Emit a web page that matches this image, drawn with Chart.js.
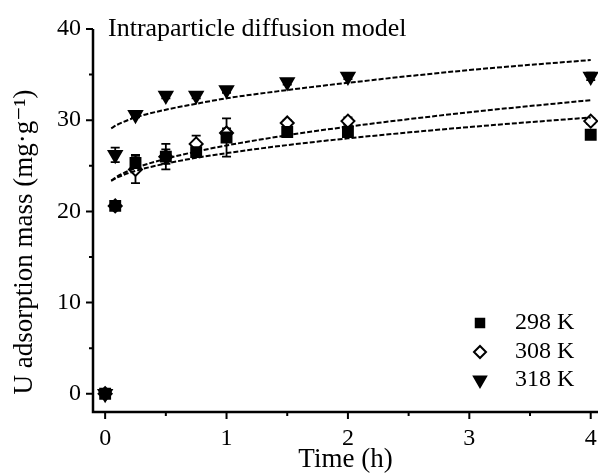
<!DOCTYPE html>
<html>
<head>
<meta charset="utf-8">
<script src="https://cdn.jsdelivr.net/npm/chart.js@4/dist/chart.umd.min.js"></script>
<style>
  html, body { margin: 0; padding: 0; background: #fff; }
  #wrap { width: 598px; height: 476px; }
</style>
</head>
<body>
<div id="wrap"><canvas id="chart" width="598" height="476"></canvas></div>
<script>
// time points (h)
const times = [0, 0.083, 0.25, 0.5, 0.75, 1, 1.5, 2, 4];

// measured adsorption (mg/g)
const q298 = [0, 20.6, 25.3, 26.0, 26.5, 28.1, 28.7, 28.7, 28.4];
const q308 = [0, 20.6, 24.6, 26.0, 27.4, 28.6, 29.7, 29.9, 29.9];
const q318 = [0, 26.2, 30.6, 32.7, 32.7, 33.3, 34.2, 34.8, 34.8];

// error bars (+/-)
const err298 = [0, 0.3, 0.9, 1.4, 0.4, 2.1, 0.3, 0.3, 0.3];
const err308 = [0, 0.3, 1.5, 0.8, 0.9, 0.5, 0.3, 0.4, 0.3];
const err318 = [0, 0.8, 0.3, 0.3, 0.3, 0.3, 0.3, 0.3, 0.4];

// fitted curves
const fitTimes = [0.05, 0.1, 0.25, 0.5, 0.75, 1, 1.5, 2, 3, 4];
const fit298 = [23.35, 23.72, 24.44, 25.24, 25.87, 26.39, 27.27, 28.01, 29.25, 30.3];
const fit308 = [23.37, 23.83, 24.75, 25.77, 26.56, 27.23, 28.35, 29.29, 30.87, 32.2];
const fit318 = [29.1, 29.5, 30.3, 31.15, 31.8, 32.4, 33.3, 34.1, 35.5, 36.6];

const xTicks = [0, 1, 2, 3, 4];
const xMinor = [0.5, 1.5, 2.5, 3.5];
const yTicks = [0, 10, 20, 30, 40];
const yMinor = [5, 15, 25, 35];

const seriesLabels = ['298 K', '308 K', '318 K'];
const chartTitle = 'Intraparticle diffusion model';
const FONT = '"Liberation Serif", "DejaVu Serif", serif';

function toPoints(xs, ys) {
    return xs.map((x, i) => ({ x: x, y: ys[i] }));
}

const markerStyles = [
    { pointStyle: 'rect', radius: 7, rotation: 0, fill: '#000' },
    { pointStyle: 'rectRot', radius: 6.5, rotation: 0, fill: '#fff' },
    { pointStyle: 'triangle', radius: 7.5, rotation: 180, fill: '#000' }
];

function fitDataset(ys) {
    return {
        data: toPoints(fitTimes, ys),
        showLine: true,
        borderColor: '#000',
        borderWidth: 2,
        borderDash: [5, 2],
        pointRadius: 0,
        cubicInterpolationMode: 'monotone',
        clip: false
    };
}

function pointDataset(ys, errs, style) {
    return {
        data: toPoints(times, ys),
        errors: errs,
        showLine: false,
        pointStyle: style.pointStyle,
        pointRadius: style.radius,
        pointRotation: style.rotation,
        pointBackgroundColor: style.fill,
        pointBorderColor: '#000',
        pointBorderWidth: 2,
        clip: false
    };
}

const decorPlugin = {
    id: 'decor',
    beforeDatasetsDraw(chart) {
        const ctx = chart.ctx;
        const xs = chart.scales.x, ys = chart.scales.y;
        ctx.save();
        ctx.strokeStyle = '#000';
        ctx.lineWidth = 1.8;
        chart.data.datasets.forEach(ds => {
            if (!ds.errors) return;
            ds.data.forEach((p, i) => {
                const e = ds.errors[i];
                if (!e) return;
                const px = xs.getPixelForValue(p.x);
                const top = ys.getPixelForValue(p.y + e);
                const bot = ys.getPixelForValue(p.y - e);
                ctx.beginPath();
                ctx.moveTo(px, top); ctx.lineTo(px, bot);
                ctx.moveTo(px - 4.5, top); ctx.lineTo(px + 4.5, top);
                ctx.moveTo(px - 4.5, bot); ctx.lineTo(px + 4.5, bot);
                ctx.stroke();
            });
        });
        ctx.restore();
    },
    afterDraw(chart) {
        const ctx = chart.ctx;
        const xs = chart.scales.x, ys = chart.scales.y;
        const area = chart.chartArea;
        const left = area.left, bottom = area.bottom;
        const top = ys.getPixelForValue(40);

        ctx.save();
        ctx.strokeStyle = '#000';
        ctx.lineWidth = 2.5;
        ctx.beginPath();
        ctx.moveTo(left, top);
        ctx.lineTo(left, bottom);
        ctx.lineTo(chart.width, bottom);
        ctx.stroke();

        // ticks
        ctx.lineWidth = 2;
        ctx.beginPath();
        yTicks.forEach(v => { const y = ys.getPixelForValue(v); ctx.moveTo(left, y); ctx.lineTo(left - 7, y); });
        yMinor.forEach(v => { const y = ys.getPixelForValue(v); ctx.moveTo(left, y); ctx.lineTo(left - 4, y); });
        xTicks.forEach(v => { const x = xs.getPixelForValue(v); ctx.moveTo(x, bottom); ctx.lineTo(x, bottom + 7); });
        xMinor.forEach(v => { const x = xs.getPixelForValue(v); ctx.moveTo(x, bottom); ctx.lineTo(x, bottom + 4); });
        ctx.stroke();

        // title inside plot
        ctx.fillStyle = '#000';
        ctx.font = '26px ' + FONT;
        ctx.textAlign = 'left';
        ctx.textBaseline = 'middle';
        ctx.fillText(chartTitle, left + 15, top);

        // y axis title
        ctx.save();
        ctx.font = '27px ' + FONT;
        ctx.translate(25, 242);
        ctx.rotate(-Math.PI / 2);
        ctx.textAlign = 'center';
        ctx.fillText('U adsorption mass (mg\u00b7g\u207b\u00b9)', 0, 0);
        ctx.restore();

        // legend
        ctx.font = '24px ' + FONT;
        const rowY = [323, 352, 380];
        const legendMarks = [
            { pointStyle: 'rect', radius: 6, rotation: 0, fill: '#000' },
            { pointStyle: 'rectRot', radius: 6, rotation: 0, fill: '#fff' },
            { pointStyle: 'triangle', radius: 7, rotation: 180, fill: '#000' }
        ];
        seriesLabels.forEach((label, i) => {
            const m = legendMarks[i];
            ctx.fillStyle = m.fill;
            ctx.strokeStyle = '#000';
            ctx.lineWidth = 2;
            Chart.helpers.drawPoint(ctx, {
                pointStyle: m.pointStyle, radius: m.radius, rotation: m.rotation, borderWidth: 2
            }, 480, rowY[i]);
            ctx.fillStyle = '#000';
            ctx.fillText(label, 515, rowY[i]);
        });
        ctx.restore();
    }
};

new Chart(document.getElementById('chart'), {
    type: 'scatter',
    data: {
        datasets: [
            fitDataset(fit298),
            fitDataset(fit308),
            fitDataset(fit318),
            pointDataset(q298, err298, markerStyles[0]),
            pointDataset(q308, err308, markerStyles[1]),
            pointDataset(q318, err318, markerStyles[2])
        ]
    },
    options: {
        responsive: false,
        animation: false,
        layout: { autoPadding: false, padding: { top: 29, right: 0, left: 0, bottom: 0 } },
        plugins: {
            legend: { display: false },
            tooltip: { enabled: false }
        },
        scales: {
            x: {
                type: 'linear',
                min: -0.1,
                max: 4.06,
                grid: { display: false, drawTicks: false },
                border: { display: false },
                afterBuildTicks: s => { s.ticks = xTicks.map(v => ({ value: v })); },
                afterFit: s => { s.height = 64; s.paddingLeft = 0; s.paddingRight = 0; },
                ticks: {
                    color: '#000',
                    padding: 12,
                    maxRotation: 0,
                    font: { family: FONT, size: 24 }
                },
                title: {
                    display: true,
                    text: 'Time (h)',
                    color: '#000',
                    padding: { top: 0, bottom: 0 },
                    font: { family: FONT, size: 27 }
                }
            },
            y: {
                type: 'linear',
                min: -2,
                max: 40,
                grid: { display: false, drawTicks: false },
                border: { display: false },
                afterBuildTicks: s => { s.ticks = yTicks.map(v => ({ value: v })); },
                afterFit: s => { s.width = 93; s.paddingTop = 0; s.paddingBottom = 0; },
                ticks: {
                    color: '#000',
                    padding: 12,
                    font: { family: FONT, size: 24 }
                }
            }
        }
    },
    plugins: [decorPlugin]
});
</script>
</body>
</html>
